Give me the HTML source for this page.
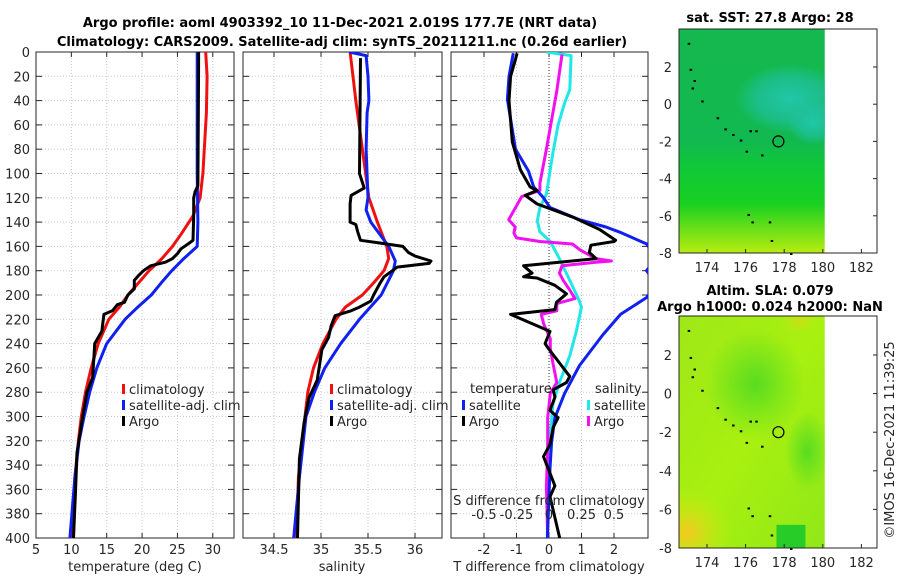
<!DOCTYPE html>
<html><head><meta charset="utf-8"><style>
body{margin:0;background:#fff}
svg{display:block;font-family:"DejaVu Sans","Liberation Sans",sans-serif}
.t{font-size:13px;fill:#262626}
.b{font-size:13px;font-weight:bold;fill:#000}
</style></head><body>
<svg id="c" width="900" height="580" viewBox="0 0 900 580">
<defs>
<clipPath id="cp1"><rect x="36" y="52" width="198" height="486"/></clipPath>
<clipPath id="cp2"><rect x="243" y="52" width="199" height="486"/></clipPath>
<clipPath id="cp3"><rect x="451" y="52" width="197" height="486"/></clipPath>
<clipPath id="mc1"><rect x="679" y="29" width="146" height="224"/></clipPath>
<clipPath id="mc2"><rect x="679" y="316" width="146" height="232"/></clipPath>
<linearGradient id="g1" x1="0" y1="0" x2="0" y2="1">
<stop offset="0" stop-color="#14b84e"/><stop offset="0.5" stop-color="#12b850"/><stop offset="0.62" stop-color="#10c838"/><stop offset="0.78" stop-color="#18d020"/><stop offset="0.9" stop-color="#70e018"/><stop offset="1" stop-color="#b8ec10"/></linearGradient>
<radialGradient id="g2"><stop offset="0" stop-color="#20c8a8"/><stop offset="0.6" stop-color="#20c0a0" stop-opacity="0.7"/><stop offset="1" stop-color="#20c8a0" stop-opacity="0"/></radialGradient>
<linearGradient id="g3" x1="0" y1="0" x2="1" y2="1">
<stop offset="0" stop-color="#9ee818"/><stop offset="0.5" stop-color="#a8f010"/><stop offset="1" stop-color="#90e818"/></linearGradient>
<radialGradient id="g4"><stop offset="0" stop-color="#f5c820"/><stop offset="1" stop-color="#c8ee10" stop-opacity="0"/></radialGradient>
<radialGradient id="g5"><stop offset="0" stop-color="#58dc20"/><stop offset="1" stop-color="#58dc20" stop-opacity="0"/></radialGradient>
</defs>
<text class="b" x="340" y="27" text-anchor="middle">Argo profile: aoml 4903392_10 11-Dec-2021 2.019S 177.7E (NRT data)</text>
<text class="b" x="342" y="46" text-anchor="middle">Climatology: CARS2009. Satellite-adj clim: synTS_20211211.nc (0.26d earlier)</text>
<g id="axes"></g>
<g id="maps"></g>
<text class="t" x="0" y="0" transform="translate(894,440) rotate(-90)" text-anchor="middle">©IMOS 16-Dec-2021 11:39:25</text>
</svg>
<script>
// ---- data ----
const depthTicks=[0,20,40,60,80,100,120,140,160,180,200,220,240,260,280,300,320,340,360,380,400];
const tempTicks=[5,10,15,20,25,30];
const salTicks=[34.5,35,35.5,36];
const tdTicks=[-2,-1,0,1,2];
const sdTickLabels=["-0.5","-0.25","0","0.25","0.5"];
const sdTicks=[-0.5,-0.25,0,0.25,0.5];

const tClimDepth=[0,20,50,100,120,135,150,160,170,180,190,200,210,220,240,260,280,300,320,350,400];
const tClimVal=[29.0,29.2,29.1,28.6,28.2,27.2,25.5,24.3,22.8,21.0,19.5,18.0,16.8,15.3,13.8,12.8,12.0,11.4,11.0,10.5,10.0];
const tSatDepth=[0,50,100,140,160,170,180,190,200,210,220,240,260,280,300,320,350,400];
const tSatVal=[27.8,27.8,27.8,27.9,27.8,25.9,24.2,22.7,21.3,19.4,17.6,15.0,13.6,12.6,11.8,11.1,10.5,9.8];
const tArgoDepth=[0,10,110,115,120,135,155,158,162,166,170,173,176,180,184,188,195,200,206,208,213,216,230,235,240,250,268,280,300,330,360,400];
const tArgoVal=[28.0,28.0,27.9,27.5,27.3,27.3,27.2,26.5,25.5,25.0,24.3,23.3,21.2,20.2,19.5,18.9,18.9,18.0,17.5,16.5,15.8,14.6,14.3,13.8,13.3,13.2,13.0,12.2,11.6,10.8,10.6,10.3];

const sClimDepth=[0,20,40,80,120,140,160,170,180,190,200,210,220,240,260,280,300,350,400];
const sClimVal=[35.31,35.34,35.37,35.44,35.51,35.60,35.70,35.72,35.67,35.56,35.44,35.26,35.16,35.02,34.92,34.86,34.83,34.76,34.74];
const sSatDepth=[0,3,20,40,50,80,120,130,140,160,172,180,200,220,240,260,280,300,350,400];
const sSatVal=[35.30,35.48,35.50,35.51,35.49,35.48,35.50,35.48,35.53,35.72,35.79,35.77,35.64,35.41,35.21,35.04,34.93,34.84,34.77,34.71];
const sArgoDepth=[5,100,112,118,125,140,142,148,155,158,160,165,168,172,174,177,180,185,190,200,205,210,213,217,225,235,245,260,270,285,305,335,400];
const sArgoVal=[35.42,35.41,35.46,35.32,35.31,35.31,35.37,35.39,35.42,35.70,35.87,35.93,36.00,36.17,36.15,35.81,35.76,35.67,35.63,35.56,35.53,35.41,35.32,35.15,35.11,35.08,35.01,34.98,34.96,34.87,34.82,34.77,34.75];

const dtSatDepth=[1,20,39,80,98,111,120,128,138,144,148,158,170,180,190,202,216,233,258,281,301,321,343,400];
const dtSatVal=[-1.10,-1.23,-1.28,-1.03,-0.63,-0.47,-0.17,0.03,0.94,1.75,2.15,3.01,3.3,3.0,3.3,3.01,2.2,1.65,0.94,0.48,0.18,0.08,0.03,-0.05];
const dtArgoDepth=[1,6,20,40,74,97,111,114,118,125,136,146,155,156,159,165,170,176,182,185,186,192,199,206,212,216,230,240,244,267,272,278,284,295,301,309,323,333,357,366,400];
const dtArgoVal=[-0.98,-1.03,-1.18,-1.23,-1.13,-0.88,-0.58,-0.37,-0.73,-0.37,0.74,1.55,2.05,2.0,1.29,1.24,1.45,-0.78,-0.52,-0.78,-0.37,0.18,0.54,0.23,0.18,-1.18,0.03,-0.12,-0.02,0.64,0.54,0.13,0.18,0.03,0.28,0.13,0.03,-0.17,0.18,0.03,0.33];
const dsSatDepth=[0,3,31,42,60,83,117,128,139,148,156,170,188,204,210,230,250,272,290,315,343,400];
const dsSatVal=[-0.02,0.17,0.16,0.12,0.07,0.03,-0.02,-0.07,-0.09,-0.07,0.01,0.08,0.16,0.23,0.25,0.21,0.16,0.08,0.03,0.01,-0.005,-0.013];
const dsArgoDepth=[2,32,80,108,114,119,138,144,149,153,156,158,163,170,172,173,176,182,188,196,203,205,207,213,216,224,236,244,256,272,281,301,329,357,400];
const dsArgoVal=[0.10,0.06,-0.02,-0.07,-0.07,-0.21,-0.31,-0.26,-0.27,-0.25,-0.07,0.18,0.24,0.36,0.48,0.36,0.10,0.08,0.11,0.16,0.20,0.13,0.06,0.06,-0.06,-0.04,0.01,0.01,0.03,0.06,0.01,-0.01,-0.01,-0.02,-0.01];

const latTicks=[2,0,-2,-4,-6,-8];
const lonTicks=[174,176,178,180,182];
const argoLon=[177.7], argoLat=[-2.0];

// ---- scales ----
const Y0=52,Y1=538;
const yD=d=>Y0+d*(Y1-Y0)/400;
const xT=v=>36+(v-5)*(198/28);
const xS=v=>274+(v-34.5)*94;
const xDT=v=>549+v*32.5;
const xDS=v=>549+v*130;
const NS="http://www.w3.org/2000/svg";
const ax=document.getElementById('axes');
function mk(tag,at,par){const e=document.createElementNS(NS,tag);for(const k in at)e.setAttribute(k,at[k]);(par||ax).appendChild(e);return e;}
function txt(s,x,y,anchor,par){const e=mk('text',{x:x,y:y,'text-anchor':anchor||'middle','class':'t'},par);e.textContent=s;return e;}

function panel(x0,x1,xticks,xf,name){
  const g=mk('g',{});
  
  
  depthTicks.forEach(d=>{mk('line',{x1:x0,x2:x1,y1:yD(d),y2:yD(d),stroke:'#c3c8e0','stroke-width':1,'stroke-dasharray':'1,2'},g);
    mk('line',{x1:x0,x2:x0+6,y1:yD(d),y2:yD(d),stroke:'#262626'},g);
    mk('line',{x1:x1-6,x2:x1,y1:yD(d),y2:yD(d),stroke:'#262626'},g);});
  xticks.forEach(v=>{const x=xf(v);mk('line',{x1:x,x2:x,y1:Y0,y2:Y1,stroke:'#c3c8e0','stroke-dasharray':'1,2'},g);
    mk('line',{x1:x,x2:x,y1:Y1-5,y2:Y1,stroke:'#262626'},g);mk('line',{x1:x,x2:x,y1:Y0,y2:Y0+5,stroke:'#262626'},g);
    const t=txt(String(v),x,554,'middle',g);
    
    });
  mk('rect',{x:x0,y:Y0,width:x1-x0,height:Y1-Y0,fill:'none',stroke:'#262626','stroke-width':1},g);
  return g;
}
function series(dep,val,xf,col,clip,name){
  const p=dep.map((d,i)=>xf(val[i]).toFixed(1)+','+yD(d).toFixed(1)).join(' ');
  const e=mk('polyline',{points:p,fill:'none',stroke:col,'stroke-width':3,'stroke-linejoin':'round','clip-path':'url(#'+clip+')'});
  
  
}
const p1=panel(36,234,tempTicks,xT,'temperature-panel');
const p2=panel(243,442,salTicks,xS,'salinity-panel');
const p3=panel(451,648,tdTicks,xDT,'difference-panel');
depthTicks.forEach(d=>{const t=txt(String(d),30,yD(d)+5,'end');
  
  });
mk('line',{x1:549,x2:549,y1:Y0,y2:Y1,stroke:'#333','stroke-dasharray':'1,2'});

series(tClimDepth,tClimVal,xT,'#f01010','cp1','temp-climatology-line');
series(tSatDepth,tSatVal,xT,'#1020f0','cp1','temp-satellite-line');
series(tArgoDepth,tArgoVal,xT,'#000','cp1','temp-argo-line');
series(sClimDepth,sClimVal,xS,'#f01010','cp2','sal-climatology-line');
series(sSatDepth,sSatVal,xS,'#1020f0','cp2','sal-satellite-line');
series(sArgoDepth,sArgoVal,xS,'#000','cp2','sal-argo-line');
series(dsSatDepth,dsSatVal,xDS,'#20e8e8','cp3','sdiff-satellite-line');
series(dsArgoDepth,dsArgoVal,xDS,'#f010f0','cp3','sdiff-argo-line');
series(dtSatDepth,dtSatVal,xDT,'#1020f0','cp3','tdiff-satellite-line');
series(dtArgoDepth,dtArgoVal,xDT,'#000','cp3','tdiff-argo-line');

[[135,'temperature (deg C)','x-axis-title-temperature'],[342,'salinity','x-axis-title-salinity'],[549,'T difference from climatology','x-axis-title-tdiff']].forEach(a=>{
  const t=txt(a[1],a[0],571);});
let st=txt('S difference from climatology',549,505);


sdTicks.forEach((v,i)=>{const t=txt(sdTickLabels[i],xDS(v),519);
  
  });

function legend(x,y,col,label){
  const g=mk('g',{});
  
  
  mk('rect',{x:x,y:y-9,width:3,height:10,fill:col},g);
  txt(label,x+7,y+1,'start',g);
}
legend(122,393,'#f01010','climatology');legend(122,409,'#1020f0','satellite-adj. clim');legend(122,425,'#000','Argo');
legend(330,393,'#f01010','climatology');legend(330,409,'#1020f0','satellite-adj. clim');legend(330,425,'#000','Argo');
let tl=txt('temperature',470,393,'start');
let sl=txt('salinity',595,393,'start');
legend(462,409,'#1020f0','satellite');legend(462,425,'#000','Argo');
legend(587,409,'#20e8e8','satellite');legend(587,425,'#f010f0','Argo');

// ---- maps ----
const mg=document.getElementById('maps');
function map(top,bot,lat2y,lat8y,kind,name,clip){
  const g=mk('g',{},mg);
  
  
  const ly=l=>lat2y+(2-l)*(lat8y-lat2y)/10;
  const lx=l=>707+(l-174)*19.3;
  const dx0=679,dx1=lx(180.1);
  const f=mk('g',{'clip-path':'url(#'+clip+')'},g);
  if(kind===1){
    mk('rect',{x:dx0,y:top,width:dx1-dx0,height:bot-top,fill:'url(#g1)'},f);
    mk('ellipse',{cx:lx(178.3),cy:ly(0.3),rx:55,ry:35,fill:'url(#g2)'},f);
    mk('ellipse',{cx:lx(179.5),cy:ly(-1.0),rx:25,ry:22,fill:'url(#g2)'},f);
  } else {
    mk('rect',{x:dx0,y:top,width:dx1-dx0,height:bot-top,fill:'url(#g3)'},f);
    mk('ellipse',{cx:lx(176.5),cy:ly(0.5),rx:50,ry:55,fill:'url(#g5)'},f);
    mk('ellipse',{cx:lx(179.2),cy:ly(-3),rx:22,ry:40,fill:'url(#g5)'},f);
    mk('ellipse',{cx:lx(173),cy:ly(-7.2),rx:45,ry:45,fill:'url(#g4)'},f);
    mk('ellipse',{cx:lx(178.8),cy:ly(3.8),rx:20,ry:15,fill:'url(#g4)','opacity':0.5},f);
    mk('rect',{x:lx(177.6),y:ly(-6.8),width:lx(179.1)-lx(177.6),height:bot-ly(-6.8),fill:'#28cc28'},f);
  }
  [[173.0,3.3],[173.1,1.9],[173.3,1.3],[173.2,0.9],[173.7,0.2],[174.5,-0.7],[174.9,-1.3],[175.3,-1.6],[175.7,-1.9],[176.2,-1.4],[176.5,-1.4],[176.0,-2.5],[176.8,-2.7],[176.3,-6.3],[176.1,-5.9],[177.2,-6.3],[177.3,-7.3],[178.3,-8]].forEach(p=>{
    mk('rect',{x:lx(p[0]),y:ly(p[1]),width:2.5,height:2,fill:'#000'},g);});
  const c=mk('circle',{cx:lx(argoLon[0]),cy:ly(argoLat[0]),r:5.5,fill:'none',stroke:'#000','stroke-width':1.2},g);
  
  
  mk('rect',{x:679,y:top,width:198,height:bot-top,fill:'none',stroke:'#262626'},g);
  latTicks.forEach(l=>{const y=ly(l);mk('line',{x1:877,x2:873,y1:y,y2:y,stroke:'#262626'},g);txt(String(l),672,y+5,'end',g);});
  lonTicks.forEach(l=>{const x=lx(l);mk('line',{x1:x,x2:x,y1:bot,y2:bot-4,stroke:'#262626'},g);txt(String(l),x,bot+19,'middle',g);});
}
map(29,253,67,253,1,'sst-map','mc1');
map(316,548,355,548,2,'sla-map','mc2');
function btxt(s,x,y,name){const e=mk('text',{x:x,y:y,'text-anchor':'middle','class':'b'},mg);e.textContent=s;
  }
btxt('sat. SST: 27.8 Argo: 28',770,22,'sst-map-title');
btxt('Altim. SLA: 0.079',770,295,'sla-map-title');
btxt('Argo h1000: 0.024 h2000: NaN',770,311,'sla-map-subtitle');
</script>
</body></html>
